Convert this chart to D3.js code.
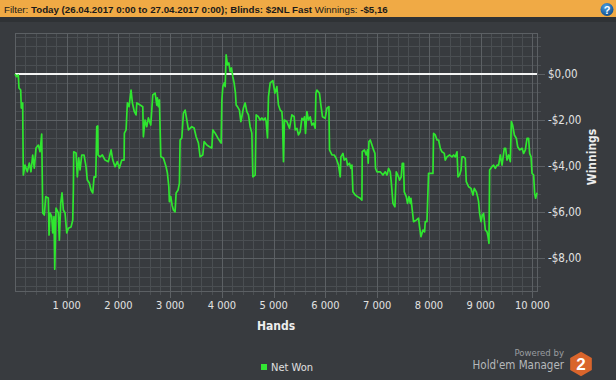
<!DOCTYPE html>
<html><head><meta charset="utf-8">
<script src="https://cdn.jsdelivr.net/npm/d3@7"></script>
<style>html,body{margin:0;padding:0;background:#383b3f;}svg{display:block;}</style>
</head><body>
<script>
// ---- data ----
const headerParts = [
  {t: "Filter: ", b: false},
  {t: "Today (26.04.2017 0:00 to 27.04.2017 0:00); Blinds: $2NL Fast", b: true},
  {t: " Winnings: ", b: false},
  {t: "-$5,16", b: true}
];
const xTicks = [1000, 2000, 3000, 4000, 5000, 6000, 7000, 8000, 9000, 10000];
const yTicks = [0, -2, -4, -6, -8];
const xLabel = "Hands";
const yLabel = "Winnings";
const seriesName = "Net Won";
// [hand number, cumulative net won $]
const netWon = [
[0,0],[33,-0.12],[64,-0.04],[77,-0.61],[110,-0.70],[122,-1.48],[149,-1.26],[152,-2.29],[161,-4.39],[193,-3.96],
[238,-4.25],[277,-3.87],[309,-4.25],[342,-3.52],[373,-4.09],[406,-3.22],[451,-3.09],[484,-3.38],[516,-2.61],[536,-6.04],
[567,-6.13],[594,-5.33],[644,-5.39],[658,-7.00],[677,-6.04],[710,-6.20],[729,-6.91],[754,-6.20],[768,-8.48],[793,-5.83],
[837,-6.04],[857,-7.22],[884,-5.61],[909,-5.17],[934,-5.91],[967,-6.04],[1000,-6.91],[1031,-6.70],[1083,-6.65],[1116,-6.35],
[1128,-5.04],[1135,-3.38],[1180,-3.43],[1205,-4.47],[1232,-3.65],[1257,-4.17],[1290,-3.52],[1334,-3.52],[1373,-4.03],[1398,-4.61],
[1437,-4.74],[1470,-5.04],[1503,-5.17],[1528,-4.47],[1561,-4.48],[1580,-2.29],[1599,-2.26],[1605,-3.52],[1644,-3.60],[1688,-3.52],
[1741,-3.74],[1804,-3.81],[1857,-3.30],[1890,-3.74],[1934,-4.03],[1978,-3.81],[2017,-4.09],[2064,-3.74],[2108,-3.74],[2114,-2.57],
[2147,-2.43],[2172,-1.26],[2205,-1.42],[2243,-0.70],[2269,-1.26],[2307,-1.64],[2340,-1.78],[2354,-1.26],[2418,-1.35],[2470,-1.42],
[2481,-2.73],[2514,-2.00],[2547,-2.29],[2578,-1.91],[2624,-2.22],[2663,-0.91],[2708,-0.83],[2741,-1.35],
[2752,-1.04],[2771,-1.42],[2791,-1.13],[2818,-3.60],[2868,-3.65],[2920,-4.03],[2945,-4.30],[2973,-4.90],[2984,-5.55],[3011,-5.33],
[3036,-5.70],[3062,-5.91],[3094,-5.99],[3114,-5.17],[3152,-5.04],[3178,-4.74],[3191,-2.87],[3224,-2.78],[3255,-1.70],[3288,-1.57],
[3321,-2.00],[3352,-2.43],[3417,-2.29],[3462,-2.35],[3501,-2.73],[3545,-3.00],[3578,-3.60],[3630,-3.52],[3655,-2.94],[3708,-3.09],
[3758,-3.16],[3804,-3.22],[3824,-2.43],[3868,-2.57],[3920,-2.78],[3965,-2.94],[3984,-3.00],[3998,-1.13],[4017,-0.55],[4042,-0.39],
[4062,-0.55],[4081,0.83],[4106,0.39],[4133,0.48],[4158,0.10],[4183,0.26],[4210,-0.12],[4235,-0.39],[4261,-0.83],[4274,-1.35],
[4299,-1.42],[4338,-1.57],[4365,-2.07],[4384,-1.86],[4415,-1.48],[4448,-1.26],[4481,-1.64],[4512,-1.78],[4545,-2.29],[4578,-2.57],
[4597,-4.47],[4642,-4.39],[4661,-1.78],[4705,-1.86],[4738,-2.00],[4771,-1.91],[4802,-2.00],[4835,-1.91],[4854,-2.07],[4880,-2.78],
[4899,-0.99],[4932,-0.39],
[4984,-0.29],[5023,-0.83],[5061,-0.55],[5092,-1.35],[5125,-1.57],[5158,-1.64],[5170,-2.00],[5189,-3.81],[5208,-2.00],[5255,-2.07],
[5305,-2.36],[5351,-1.78],[5396,-1.86],[5415,-2.43],[5448,-2.36],[5479,-2.65],[5512,-2.51],[5545,-1.93],[5576,-2.00],[5595,-1.86],
[5615,-2.58],[5642,-1.64],[5672,-2.00],[5705,-1.86],[5738,-2.22],[5769,-2.14],[5802,-2.36],[5816,-0.84],[5835,-0.70],[5885,-0.84],
[5912,-1.35],[5943,-1.86],[5995,-1.93],[6028,-1.49],[6067,-1.42],[6079,-3.30],[6125,-3.52],[6170,-3.52],[6208,-3.67],[6253,-3.96],
[6286,-4.47],[6299,-3.60],[6338,-3.45],[6363,-3.74],[6402,-3.67],[6427,-3.96],[6465,-3.88],[6492,-4.10],[6512,-3.96],[6531,-5.12],
[6576,-5.26],[6620,-5.33],[6672,-5.40],[6705,-5.48],[6711,-3.38],[6755,-3.30],[6788,-3.52],[6813,-3.30],[6827,-3.88],[6841,-2.94],
[6866,-2.87],[6899,-3.09],[6930,-3.30],[6957,-3.45],[6968,-4.10],[6995,-4.25],[7059,-4.25],[7111,-4.39],[7156,-4.25],[7189,-4.39],
[7220,-4.10],[7253,-4.25],[7272,-4.68],
[7305,-5.62],[7343,-5.77],[7363,-4.61],[7369,-4.25],[7413,-4.47],[7432,-4.61],[7465,-4.47],[7485,-3.88],[7510,-3.88],[7523,-5.12],
[7562,-5.33],[7587,-5.62],[7614,-5.33],[7639,-5.62],[7653,-5.40],[7678,-5.91],[7703,-6.42],[7755,-6.35],[7800,-6.27],[7819,-6.64],
[7846,-7.07],[7885,-6.78],[7916,-6.86],[7929,-6.42],[7962,-6.42],[7993,-4.32],[8026,-4.32],[8078,-4.32],[8090,-2.58],[8123,-2.65],
[8156,-2.87],[8187,-2.87],[8220,-3.23],[8252,-3.38],[8297,-3.45],[8316,-3.74],[8349,-3.60],[8399,-3.52],[8446,-3.60],[8477,-3.52],
[8510,-3.60],[8543,-3.38],[8562,-4.47],[8593,-4.39],[8620,-4.17],[8639,-3.60],[8671,-3.60],[8703,-3.67],[8722,-4.68],[8767,-4.90],
[8813,-4.97],[8852,-5.26],[8877,-4.97],[8916,-5.12],[8941,-5.33],[8960,-5.55],[8980,-6.06],[9007,-6.42],[9032,-6.13],[9057,-6.06],
[9090,-6.78],[9123,-6.86],[9142,-7.07],[9161,-7.36],[9173,-4.17],[9219,-4.03],[9250,-3.96],[9283,-4.10],[9316,-3.96],[9347,-3.96],
[9380,-3.52],[9413,-3.96],[9457,-3.23],[9483,-3.23],[9510,-3.74],[9541,-3.52],[9573,-3.81],[9593,-2.07],[9618,-2.22],[9651,-2.65],
[9690,-2.80],[9715,-3.16],[9753,-3.30],[9800,-3.23],[9831,-3.45],[9864,-3.30],[9896,-2.80],[9927,-2.80],[9947,-3.45],[9974,-3.60],
[9993,-4.32],[10024,-4.39],[10043,-5.19],[10062,-5.40],[10089,-5.16]
];

// ---- layout ----
const W = 616, H = 380;
const P = {l: 15, r: 537, t: 33, b: 291};
const FONT = "Tahoma, 'DejaVu Sans Condensed', 'Liberation Sans', Arial, sans-serif";

const svg = d3.select("body").append("svg").attr("width", W).attr("height", H)
  .style("font-family", FONT);

svg.append("rect").attr("width", W).attr("height", H).attr("fill", "#383b3f");
// header
svg.append("rect").attr("x", 0).attr("y", 0).attr("width", W).attr("height", 17).attr("fill", "#f0aa45");
svg.append("rect").attr("x", 0).attr("y", 17).attr("width", W).attr("height", 5).attr("fill", "#2f3235");
const ht = svg.append("text").attr("x", 4).attr("y", 13).attr("font-size", 12)
  .attr("font-family", "'Liberation Sans', Arial, sans-serif").attr("fill", "#1a1a1a");
ht.selectAll("tspan").data(headerParts).join("tspan")
  .attr("font-weight", d => d.b ? "bold" : "normal").text(d => d.t);
const hw = ht.node().getComputedTextLength();
ht.attr("font-size", Math.min(12, 12 * 384 / hw));
// help icon
const grad = svg.append("defs").append("radialGradient").attr("id", "hg").attr("cx", "40%").attr("cy", "30%").attr("r", "70%");
grad.append("stop").attr("offset", "0%").attr("stop-color", "#4aa0e6");
grad.append("stop").attr("offset", "100%").attr("stop-color", "#11508f");
svg.append("circle").attr("cx", 607).attr("cy", 9.5).attr("r", 6.5).attr("fill", "url(#hg)");
svg.append("text").attr("x", 607).attr("y", 13.5).attr("text-anchor", "middle").attr("font-size", 11)
  .attr("font-weight", "bold").attr("fill", "#fff").attr("font-family", "'Liberation Sans', Arial, sans-serif").text("?");

// ---- scales ----
const x = d3.scaleLinear().domain([0, 10089]).range([P.l, P.r]);
const y = d3.scaleLinear().domain([-9.43, 1.78]).range([P.b, P.t]);

// grid
const g = svg.append("g");
const minorX = d3.range(200, 10089, 200).filter(v => v % 1000 !== 0);
const minorY = d3.range(-9.2, 1.79, 0.4).map(v => Math.round(v * 10) / 10).filter(v => Math.abs(v % 2) > 0.01);
g.selectAll(".vx").data(minorX).join("line")
  .attr("x1", d => Math.round(x(d)) + 0.5).attr("x2", d => Math.round(x(d)) + 0.5)
  .attr("y1", P.t).attr("y2", P.b + 4).attr("stroke", "#4a4e52").attr("stroke-width", 1);
g.selectAll(".hy").data(minorY).join("line")
  .attr("y1", d => Math.round(y(d)) + 0.5).attr("y2", d => Math.round(y(d)) + 0.5)
  .attr("x1", P.l).attr("x2", P.r + 4).attr("stroke", "#4a4e52").attr("stroke-width", 1);
g.selectAll(".vX").data(xTicks).join("line")
  .attr("x1", d => Math.round(x(d)) + 0.5).attr("x2", d => Math.round(x(d)) + 0.5)
  .attr("y1", P.t).attr("y2", P.b + 7).attr("stroke", "#5c6064").attr("stroke-width", 1);
g.selectAll(".hY").data(yTicks).join("line")
  .attr("y1", d => Math.round(y(d)) + 0.5).attr("y2", d => Math.round(y(d)) + 0.5)
  .attr("x1", P.l).attr("x2", P.r + 8).attr("stroke", "#5c6064").attr("stroke-width", 1);
// frame
svg.append("rect").attr("x", P.l + 0.5).attr("y", P.t + 0.5).attr("width", P.r - P.l).attr("height", P.b - P.t)
  .attr("fill", "none").attr("stroke", "#5c6064");

// zero line
svg.append("line").attr("x1", P.l).attr("x2", P.r).attr("y1", y(0)).attr("y2", y(0))
  .attr("stroke", "#f4f4f4").attr("stroke-width", 2);

// series
const line = d3.line().x(d => x(d[0])).y(d => y(d[1]));
svg.append("path").datum(netWon).attr("d", line).attr("fill", "none")
  .attr("stroke", "#2fe62f").attr("stroke-width", 1.7).attr("stroke-linejoin", "round");

// axes labels
const loc = d3.formatLocale({decimal: ",", thousands: " ", grouping: [3], currency: ["$", ""], minus: "-"});
const fx = loc.format(",d");
const fy = v => (v < 0 ? "-" : "") + "$" + loc.format(".2f")(Math.abs(v));
svg.append("g").selectAll("text").data(xTicks).join("text")
  .attr("x", d => x(d)).attr("y", 309).attr("text-anchor", "middle")
  .attr("font-size", 11).attr("fill", "#e2e2e2").text(d => fx(d));
svg.append("g").selectAll("text").data(yTicks).join("text")
  .attr("x", 548).attr("y", d => y(d) + 4).attr("text-anchor", "start")
  .attr("font-size", 11.5).attr("fill", "#e2e2e2").text(d => fy(d));
svg.append("text").attr("x", 276).attr("y", 330).attr("text-anchor", "middle")
  .attr("font-size", 12).attr("font-weight", "bold").attr("fill", "#eeeeee").text(xLabel);
svg.append("text").attr("transform", "translate(596,157) rotate(-90)").attr("text-anchor", "middle")
  .attr("font-size", 12).attr("font-weight", "bold").attr("fill", "#eeeeee").text(yLabel);

// legend
svg.append("rect").attr("x", 261).attr("y", 364).attr("width", 6).attr("height", 6).attr("fill", "#33e633");
svg.append("text").attr("x", 271).attr("y", 371).attr("font-size", 11).attr("fill", "#e0e0e0").text(seriesName);

// branding
svg.append("text").attr("x", 564).attr("y", 355.5).attr("text-anchor", "end").attr("font-size", 9.5)
  .attr("fill", "#9a9da0").text("Powered by");
svg.append("text").attr("x", 564).attr("y", 369).attr("text-anchor", "end").attr("font-size", 11.5)
  .attr("fill", "#b5b8bb").text("Hold'em Manager");
const cx = 581, cy = 364;
const hex = d3.range(6).map(i => {
  const a = Math.PI / 3 * i - Math.PI / 2;
  return [cx + 12.5 * Math.cos(a), cy + 12.2 * Math.sin(a)];
});
svg.append("polygon").attr("points", hex.map(p => p.join(",")).join(" ")).attr("fill", "#d9652c");
svg.append("text").attr("x", cx).attr("y", cy + 6).attr("text-anchor", "middle").attr("font-size", 17)
  .attr("font-weight", "bold").attr("fill", "#ffffff").attr("font-family", "'Liberation Sans', Arial, sans-serif").text("2");
</script>
</body></html>
